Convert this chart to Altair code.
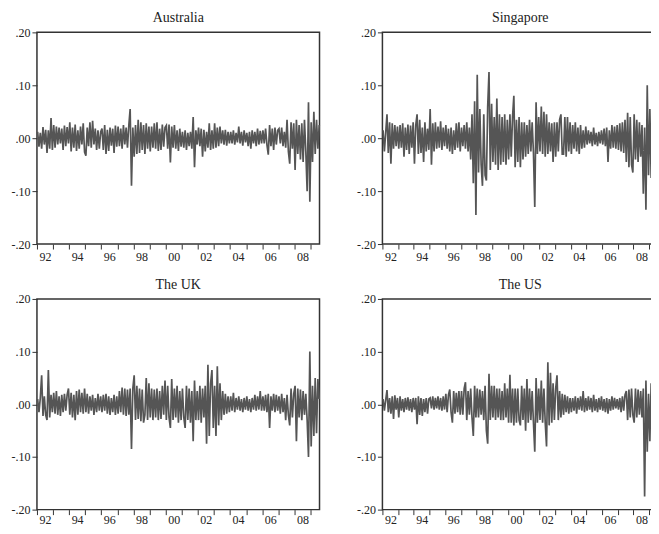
import altair as alt
import pandas as pd

YEARS = list(range(1992, 2010))
X_END = 2009.56

# Monthly-resolution readings (12 per year, 2009: Jan-Jul) of the weekly return series
australia = [
    [.012, -.016, .010, -.020, .021, -.012, .016, -.028, .015, -.020, .038, -.022],
    [.025, -.018, .022, -.012, .020, -.010, .018, -.022, .024, -.015, .021, -.010],
    [.030, -.025, .020, -.018, .026, -.024, .015, -.020, .022, -.012, .028, -.026],
    [-.033, .020, -.015, .030, -.018, .033, -.012, .018, -.022, .015, -.020, .012],
    [.018, -.022, .025, -.030, .016, -.024, .020, -.014, .018, -.028, .024, -.016],
    [.022, -.015, .018, -.020, .025, -.012, .020, -.018, .024, .055, -.090, .020],
    [-.035, .025, -.030, .035, -.028, .030, -.022, .025, -.030, .028, -.020, .022],
    [-.025, .022, -.018, .028, -.020, .030, -.024, .018, -.022, .026, -.016, .020],
    [.024, -.020, .026, -.046, .022, -.018, .025, -.020, .015, -.024, .018, -.016],
    [.012, -.018, .015, -.022, .010, -.015, .012, -.020, .040, -.055, .015, -.012],
    [.020, -.015, .018, -.035, .016, -.025, .012, -.018, .028, -.022, .015, -.020],
    [.028, -.018, .020, -.015, .022, -.010, .015, -.012, .016, -.014, .012, -.010],
    [.012, -.010, .015, -.012, .010, -.008, .022, -.010, .012, -.014, .015, -.008],
    [.010, -.015, .012, -.020, .015, -.010, .012, -.015, .018, -.012, .014, -.010],
    [.015, -.010, .018, -.012, -.031, .025, -.015, .018, -.022, .020, -.012, .015],
    [.018, -.010, .020, -.015, .012, -.018, .035, -.025, -.048, .030, -.020, .028],
    [-.060, .035, -.030, .025, -.040, .028, -.045, .035, -.025, -.100, .068, -.120],
    [.030, -.045, .050, -.030, .035, -.020, .025],
]

singapore = [
    [.015, -.025, .010, .045, -.028, .030, -.048, .028, -.020, .025, -.015, .022],
    [-.020, .025, -.018, .028, -.035, .020, -.022, .026, -.030, .024, -.018, .030],
    [-.048, .025, .045, -.030, .035, -.028, .020, -.045, .030, -.025, .018, -.022],
    [.055, -.050, .028, -.025, .030, -.020, .022, -.018, .032, -.022, .020, -.015],
    [.025, -.020, .018, -.025, .020, -.030, .015, -.022, .028, -.018, .030, -.025],
    [.020, -.015, .025, -.020, .030, -.025, .020, -.040, .045, -.085, .070, -.145],
    [.120, -.065, .055, -.050, -.090, .045, -.070, -.080, .060, .125, -.060, .065],
    [-.045, .040, -.050, .075, -.060, .045, -.050, .040, -.045, .045, -.050, .035],
    [-.040, .045, -.035, .040, .080, -.055, .035, -.045, .040, -.055, .030, -.040],
    [.030, -.035, .025, -.030, .035, -.025, .030, -.028, -.130, .068, -.030, .040],
    [-.025, .060, -.030, .050, -.035, .045, -.030, .030, -.025, .028, -.045, .030],
    [-.035, .030, -.025, .035, .045, -.030, -.030, .040, -.035, .040, -.025, .030],
    [-.030, .025, -.020, .030, -.025, .020, -.030, .025, -.020, .015, -.018, .022],
    [-.012, .015, -.010, .012, -.015, .020, -.012, .010, -.015, .012, -.010, .015],
    [-.012, .018, -.015, .020, -.045, .015, -.020, .025, -.018, .022, -.020, .025],
    [-.022, .028, -.025, .030, -.028, .035, -.045, .048, -.055, .040, -.050, -.065],
    [.045, -.040, .035, -.045, .030, -.035, .025, -.105, .020, -.135, .100, -.070],
    [.055, -.075, .040, -.030, .050, -.025, .030],
]

uk = [
    [.010, -.015, .012, .055, -.022, .015, -.020, -.030, .065, -.025, .018, -.015],
    [.022, -.018, .025, -.020, .015, -.022, .018, -.015, .020, -.012, .018, .030],
    [-.020, .022, -.025, .018, -.030, .025, -.020, .028, -.015, .022, -.018, .030],
    [-.015, .020, -.018, .015, -.012, .018, -.020, .012, -.015, .020, -.012, .015],
    [-.015, .018, -.012, .020, -.018, .015, -.020, .012, -.015, .018, -.020, .015],
    [-.018, .025, -.015, .032, -.020, .030, -.022, .028, -.020, .030, -.085, .030],
    [.055, -.030, .035, -.028, .030, -.032, .028, -.035, -.020, .050, -.030, .040],
    [-.025, .030, -.030, .028, -.025, .030, -.030, .025, -.028, .035, -.020, .045],
    [-.030, .035, -.025, -.045, .048, -.030, .030, -.025, .035, -.035, .025, -.030],
    [.030, -.025, -.045, .035, -.030, .030, -.035, .025, -.070, .045, -.030, .025],
    [-.030, .035, -.035, .030, -.025, .035, -.075, .075, -.060, .040, .065, -.045],
    [.035, -.060, .072, -.040, .040, -.030, .025, -.020, .020, -.018, .015, -.015],
    [.015, -.012, .022, -.015, .012, -.010, .015, -.012, .010, -.015, .012, -.010],
    [.015, -.012, .010, -.015, .012, -.010, .018, -.012, .015, -.010, .025, -.012],
    [.015, -.012, .018, -.015, .020, -.045, .015, -.012, .020, -.015, .018, -.012],
    [.015, -.018, .020, -.015, .012, -.030, .018, -.020, -.040, .030, -.025, .020],
    [.035, -.070, .030, -.025, .028, -.030, .025, -.020, .020, -.030, -.100, .100],
    [-.080, .035, -.060, .050, -.055, .048, .010],
]

us = [
    [.010, -.012, .008, .027, -.015, .012, -.018, .015, -.028, .017, -.010, .012],
    [-.025, .015, -.012, .010, -.015, .012, -.010, .013, -.012, .010, -.015, .012],
    [-.010, .012, -.038, .015, -.020, .012, -.022, .010, -.015, .012, -.018, .010],
    [.012, -.008, .015, -.010, .012, -.008, .015, -.010, .012, -.012, .015, -.010],
    [.020, -.015, .018, .028, -.015, -.035, .025, -.018, .022, -.015, .025, -.020],
    [.025, -.020, .030, .042, -.030, .025, -.020, .030, -.025, -.060, .035, -.025],
    [.030, -.025, .028, -.020, .025, -.030, .035, -.050, -.075, .058, -.030, .035],
    [-.025, .035, -.030, .030, -.025, .030, -.030, .025, -.030, .040, -.025, .030],
    [-.035, .056, -.035, .030, -.040, .030, -.035, .030, -.030, -.040, .035, -.030],
    [.030, -.050, .048, -.035, .030, -.030, .025, -.035, -.090, .050, -.035, .030],
    [-.030, .045, -.035, .030, -.035, -.080, .080, -.040, .060, -.035, .040, -.030],
    [.030, .055, -.030, .025, -.025, .020, -.020, .018, -.015, .015, -.018, .012],
    [-.015, .012, -.012, .015, -.018, .012, -.010, .015, -.012, .025, -.015, .012],
    [-.012, .015, -.010, .012, -.015, .018, -.012, .010, -.015, .012, -.010, .015],
    [-.012, .010, -.015, .012, -.018, .010, -.012, .015, -.010, .012, -.008, .010],
    [-.010, .012, -.015, .015, -.012, .018, .025, -.030, .028, -.025, .030, -.020],
    [-.035, .030, -.025, .028, -.020, .025, -.025, .030, -.175, .045, -.090, .020],
    [-.070, .040, -.045, .035, -.030, .025, -.020],
]

Y_TICKS = [-0.2, -0.1, 0.0, 0.1, 0.2]


def to_frame(rows):
    t, v = [], []
    for yr, vals in zip(YEARS, rows):
        for k, val in enumerate(vals):
            t.append(yr + (k + 0.5) / 12)
            v.append(val)
    return pd.DataFrame({"t": t, "v": v})


def x_axis(tick, pad):
    return alt.Axis(
        values=YEARS,
        labelExpr="datum.value % 2 == 0 ? substring(toString(datum.value), 2, 4) : ''",
        labelOffset=8,
        labelFlush=False,
        labelOverlap=False,
        labelPadding=pad,
        tickSize=tick,
        domain=False,
        grid=False,
        title=None,
    )


y_axis = alt.Axis(
    values=Y_TICKS,
    labelExpr="(datum.value < 0 ? '-' : '') + '.' + substring(format(abs(datum.value), '.2f'), 2, 4)",
    labelFlush=False,
    labelOverlap=False,
    labelPadding=2,
    tickSize=5,
    domain=False,
    grid=False,
    title=None,
)


def panel(name, rows, width, height, xax):
    return (
        alt.Chart(to_frame(rows), title=alt.TitleParams(name))
        .mark_line(color="#555555", strokeWidth=1.7)
        .encode(
            x=alt.X("t:Q", scale=alt.Scale(domain=[1992, X_END], nice=False, zero=False), axis=xax),
            y=alt.Y("v:Q", scale=alt.Scale(domain=[-0.2, 0.2], nice=False, zero=False), axis=y_axis),
        )
        .properties(width=width, height=height)
    )


top = alt.hconcat(
    panel("Australia", australia, 283, 212, x_axis(5, 2)),
    panel("Singapore", singapore, 276, 212, x_axis(5, 2)),
    spacing=32,
)
bottom = alt.hconcat(
    panel("The UK", uk, 283, 211, x_axis(5, 0)),
    panel("The US", us, 276, 211, x_axis(5, 0)),
    spacing=32,
)

chart = (
    alt.vconcat(top, bottom, spacing=14)
    .properties(padding={"left": 2, "top": 2, "right": -11, "bottom": 1}, background="white")
    .configure_view(stroke="#333333", strokeWidth=1.5)
    .configure_axis(
        labelFont="Liberation Serif",
        labelFontSize=12,
        labelColor="#222222",
        tickColor="#333333",
        tickWidth=1,
    )
    .configure_title(font="Liberation Serif", fontSize=14, fontWeight="normal", color="#222222", offset=1)
)

chart.save("out.html", embed_options={"renderer": "svg", "actions": False})
